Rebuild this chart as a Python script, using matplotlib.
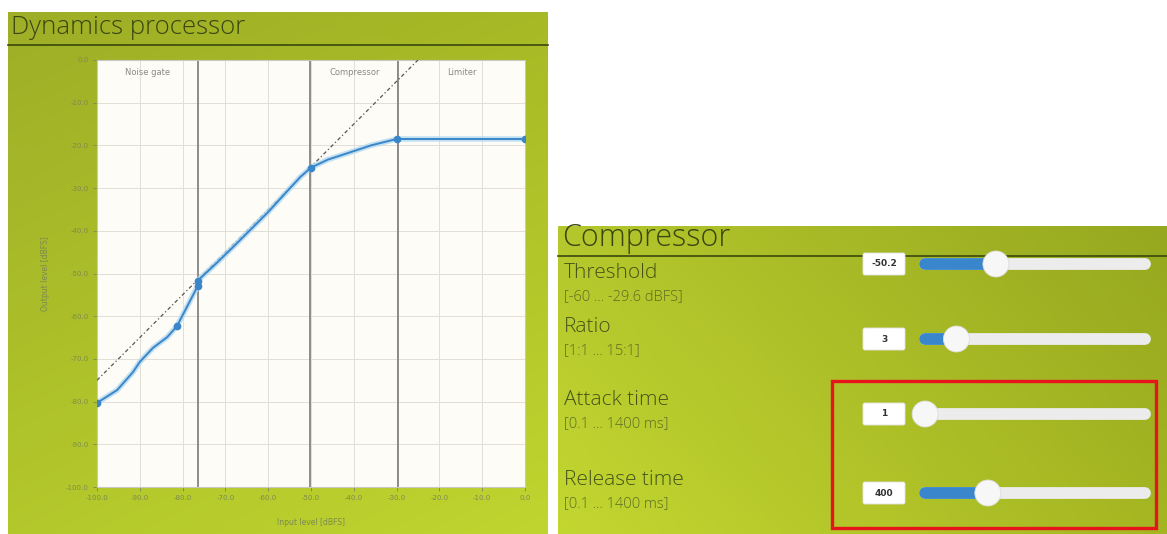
import numpy as np
import matplotlib
matplotlib.use("Agg")
import matplotlib.pyplot as plt
from matplotlib.patches import Rectangle, Circle, FancyBboxPatch
from matplotlib.colors import to_rgb

W, H = 1167, 534

# transfer curve of the dynamics processor (input dBFS -> output dBFS)
curve_in = [-100, -95.3, -91.6, -90.0, -86.9, -83.6, -81.3, -76.5, -76.5,
            -72, -68, -64, -60, -56, -52.5, -50,
            -46, -41.7, -36, -30, 0]
curve_out = [-80.3, -77.3, -73.1, -70.7, -67.4, -64.9, -62.3, -53.0, -51.7,
             -47.5, -43.6, -39.6, -35.6, -31.2, -27.4, -25.2,
             -23.3, -21.9, -20.0, -18.5, -18.5]
marker_in = [-100, -81.3, -76.5, -76.5, -50, -30, 0]
marker_out = [-80.3, -62.3, -53.0, -51.7, -25.2, -18.5, -18.5]

# linear reference (gain) line
ref_in = [-100, -25]
ref_out = [-75, 0]

noise_gate_thr = -76.5
comp_thr = -50.2
limiter_thr = -29.6
regions = [("Noise gate", -100, noise_gate_thr),
           ("Compressor", -50, limiter_thr),
           ("Limiter", limiter_thr, 0)]

x_ticks = [-100, -90, -80, -70, -60, -50, -40, -30, -20, -10, 0]
y_ticks = [-100, -90, -80, -70, -60, -50, -40, -30, -20, -10, 0]

# compressor controls
ctrl_names = ["Threshold", "Ratio", "Attack time", "Release time"]
ctrl_ranges = ["[-60 ... -29.6 dBFS]", "[1:1 ... 15:1]", "[0.1 ... 1400 ms]", "[0.1 ... 1400 ms]"]
ctrl_values = [-50.2, 3, 1, 400]
ctrl_labels = ["-50.2", "3", "1", "400"]
ctrl_min = [-60, 1, 0.1, 0.1]
ctrl_max = [-29.6, 15, 1400, 1400]


def gradient(c_tl, c_tr, c_bl, c_br, n=200):
    tl, tr, bl, br = [np.array(to_rgb(c)) for c in (c_tl, c_tr, c_bl, c_br)]
    u = np.linspace(0, 1, n)[None, :, None]
    v = np.linspace(0, 1, n)[:, None, None]
    top = tl * (1 - u) + tr * u
    bot = bl * (1 - u) + br * u
    return top * (1 - v) + bot * v


fig = plt.figure(figsize=(W / 100, H / 100), dpi=100)
fig.patch.set_facecolor("white")

bg = fig.add_axes([0, 0, 1, 1])
bg.set_xlim(0, W)
bg.set_ylim(H, 0)
bg.axis("off")

# left panel
bg.imshow(gradient("#9eae27", "#a7b925", "#b3c82b", "#c0d52f"),
          extent=(8, 548, 534, 12), aspect="auto", zorder=0)
bg.plot([8, 548], [45, 45], color="#3b470c", lw=1.2, zorder=2)
bg.text(11, 28, "Dynamics processor", fontsize=18.5, family="Open Sans",
        fontweight="light", color="#3a4610", va="center", ha="left")

# right panel
bg.imshow(gradient("#b4c72c", "#96a81f", "#c3d731", "#a5b622"),
          extent=(558, W, 534, 226), aspect="auto", zorder=0)
bg.plot([558, W], [256, 256], color="#3b470c", lw=1.2, zorder=2)
bg.text(562, 238, "Compressor", fontsize=22, family="Open Sans",
        fontweight="light", color="#3a4610", va="center", ha="left")

row_y = [264, 339, 414, 493]
text_y = [273, 327, 400, 480]
track_x0, track_x1 = 925, 1145
for i in range(len(ctrl_names)):
    bg.text(564, text_y[i], ctrl_names[i], fontsize=15, family="Open Sans",
            fontweight="light", color="#45531a", va="center", ha="left")
    bg.text(564, text_y[i] + 24, ctrl_ranges[i], fontsize=10.5, family="Open Sans",
            fontweight="light", color="#5d6c24", va="center", ha="left")
    y = row_y[i]
    box = FancyBboxPatch((863, y - 11), 42, 22, boxstyle="round,pad=0,rounding_size=2",
                         facecolor="white", edgecolor="#e4e4e4", lw=0.6, zorder=3)
    bg.add_patch(box)
    bg.text(884, y, ctrl_labels[i], fontsize=6.5, color="#333333",
            ha="center", va="center", fontweight="bold", zorder=4)
    frac = (ctrl_values[i] - ctrl_min[i]) / (ctrl_max[i] - ctrl_min[i])
    kx = track_x0 + frac * (track_x1 - track_x0)
    bg.plot([track_x0, track_x1], [y, y], color="#ececec", lw=8.5,
            solid_capstyle="round", zorder=3)
    if kx > track_x0 + 2:
        bg.plot([track_x0, kx], [y, y], color="#3a86cc", lw=8.5,
                solid_capstyle="round", zorder=4)
    bg.add_patch(Circle((kx, y), 13, facecolor="#f7f7f7", edgecolor="#dddddd",
                        lw=0.6, zorder=5))

# highlight box
bg.add_patch(Rectangle((832, 381), 324, 147, fill=False, edgecolor="#e8141c",
                       lw=2.4, zorder=6))

# chart
ax = fig.add_axes([97 / W, 1 - 487 / H, 428 / W, 427 / H])
ax.set_facecolor("#fdfcf6")
ax.set_xlim(-100, 0)
ax.set_ylim(-100, 0)
ax.set_xticks(x_ticks)
ax.set_yticks(y_ticks)
ax.set_xticklabels(["%.1f" % v for v in x_ticks])
ax.set_yticklabels(["%.1f" % v for v in y_ticks])
ax.tick_params(labelsize=5, colors="#7d8a50", length=3, width=0.6, pad=3)
ax.grid(True, color="#e2dfd6", lw=0.7)
ax.set_axisbelow(True)
for s in ax.spines.values():
    s.set_color("#c9c9c4")
    s.set_linewidth(0.8)

for thr in [noise_gate_thr, comp_thr, limiter_thr]:
    ax.axvline(thr, color="#7a7a7a", lw=1.2, zorder=2)

for name, a, b in regions:
    ax.text((a + b) / 2, -3, name, fontsize=6, color="#8a8a85",
            ha="center", va="center")

ax.plot(ref_in, ref_out, color="#555555", lw=0.9, ls=(0, (3, 2, 1, 2)), zorder=3)
ax.plot(curve_in, curve_out, color="#b4daf2", lw=4, alpha=0.8, zorder=4,
        solid_joinstyle="round")
ax.plot(curve_in, curve_out, color="#3a86c8", lw=1.4, zorder=5)
ax.plot(marker_in, marker_out, ls="none", marker="o", ms=4.5,
        color="#3a86c8", zorder=6)

ax.set_xlabel("Input level [dBFS]", fontsize=5.5, color="#7d8a50")
ax.set_ylabel("Output level [dBFS]", fontsize=5.5, color="#7d8a50")
ax.xaxis.set_label_coords(0.5, -0.072)
ax.yaxis.set_label_coords(-0.11, 0.5)

fig.savefig("out.png", dpi=100, facecolor="white")
